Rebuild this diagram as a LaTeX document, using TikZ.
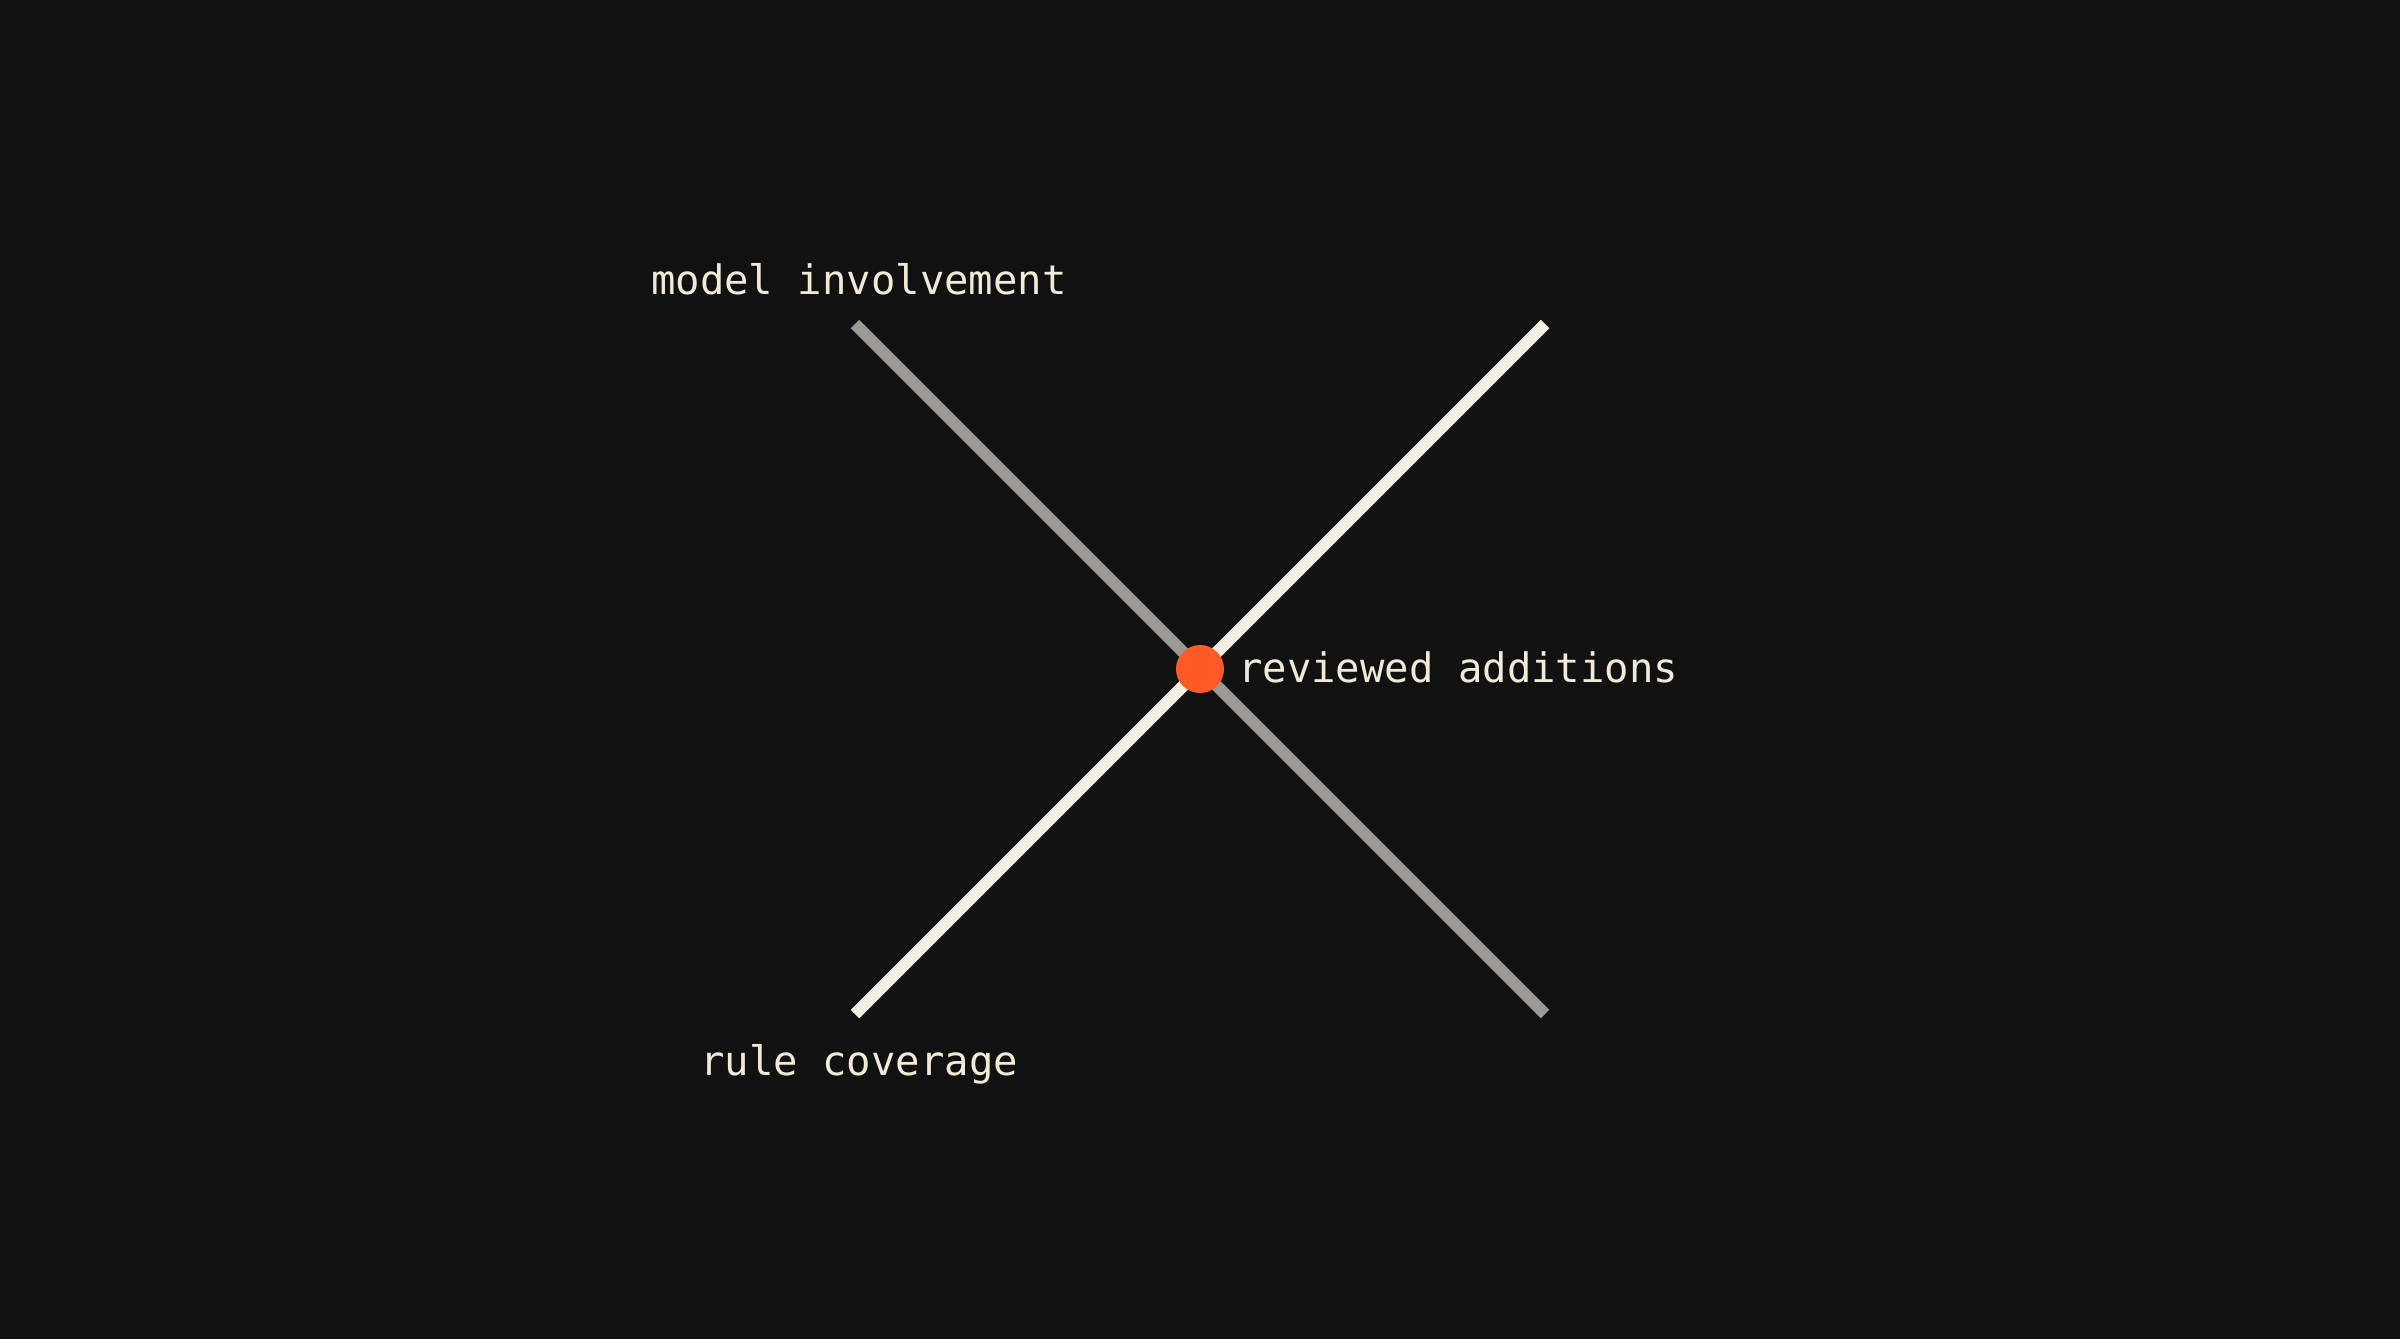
\documentclass[tikz,border=0pt]{standalone}
\usepackage{fontspec}
\setmonofont{DejaVu Sans Mono}
\definecolor{bgc}{HTML}{111111}
\definecolor{grayline}{HTML}{9C9892}
\definecolor{lightline}{HTML}{F4EFE3}
\definecolor{txt}{HTML}{F0EAD6}
\definecolor{dotc}{HTML}{FF5A28}
\tikzset{
  lbl/.style={text=txt, inner sep=0pt, font=\ttfamily\fontsize{40.6}{48}\selectfont},
  axisgray/.style={draw=grayline, line width=12pt, line cap=butt},
  axislight/.style={draw=lightline, line width=12pt, line cap=butt},
  hub/.style={circle, fill=dotc, draw=none, minimum size=48pt, inner sep=0pt}
}
\begin{document}
\begin{tikzpicture}[x=1pt,y=-1pt]
\fill[bgc] (0,0) rectangle (2400,1339);
\useasboundingbox (0,0) rectangle (2400,1339);
\coordinate (gtl) at (855,324);
\coordinate (gbr) at (1545,1014);
\coordinate (ltr) at (1545,324);
\coordinate (lbl) at (855,1014);
\draw[axisgray] (gtl) -- (gbr);
\draw[axislight] (lbl) -- (ltr);
\node[hub] (dot) at (1200,669) {};
\node[lbl, anchor=base west] (model) at (651,294) {model involvement};
\node[lbl, anchor=base west] (review) at (1238,682) {reviewed additions};
\node[lbl, anchor=base west] (rule) at (700,1075) {rule coverage};
\end{tikzpicture}
\end{document}
